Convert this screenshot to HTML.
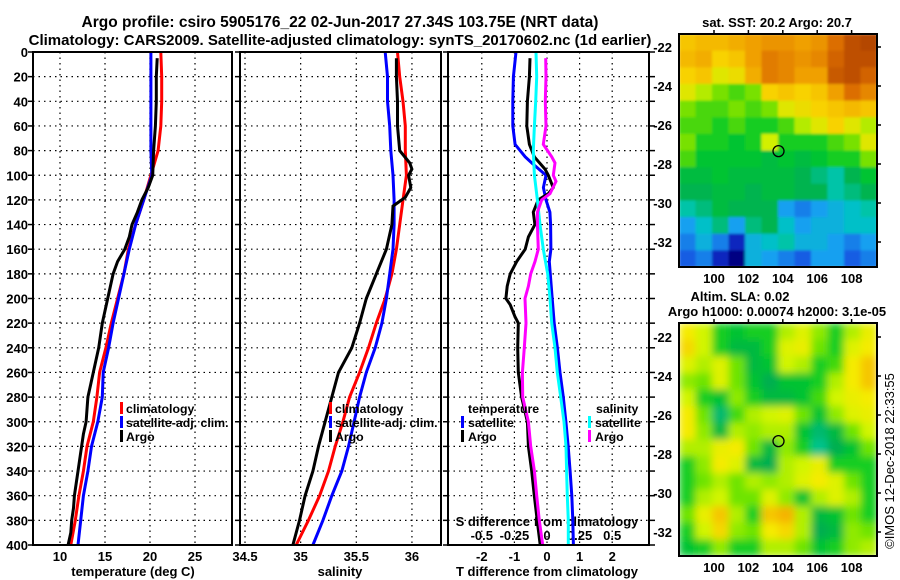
<!DOCTYPE html>
<html><head><meta charset="utf-8"><title>Argo profile</title>
<style>
html,body{margin:0;padding:0;background:#fff;}
svg{display:block;font-family:"Liberation Sans",sans-serif;font-weight:bold;}
</style></head>
<body>
<svg id="fig" width="900" height="580" viewBox="0 0 900 580" xmlns="http://www.w3.org/2000/svg">
<defs>
<filter id="blurSla" x="0" y="0" width="1" height="1"><feGaussianBlur stdDeviation="4" edgeMode="duplicate"/></filter>
<filter id="blurSst" x="0" y="0" width="1" height="1"><feGaussianBlur stdDeviation="1.2" edgeMode="duplicate"/></filter>
<clipPath id="clipSst"><rect x="679" y="34" width="198" height="233"/></clipPath>
<clipPath id="clipSla"><rect x="679" y="323" width="198" height="233"/></clipPath>
</defs>
<text x="340" y="27" text-anchor="middle" font-size="15.5">Argo profile: csiro 5905176_22 02-Jun-2017 27.34S 103.75E (NRT data)</text>
<text x="340" y="45" text-anchor="middle" font-size="15">Climatology: CARS2009. Satellite-adjusted climatology: synTS_20170602.nc (1d earlier)</text>
<text x="777" y="27" text-anchor="middle" font-size="13">sat. SST: 20.2 Argo: 20.7</text>
<text x="740" y="301" text-anchor="middle" font-size="13">Altim. SLA: 0.02</text>
<text x="777" y="316" text-anchor="middle" font-size="13">Argo h1000: 0.00074 h2000: 3.1e-05</text>
<text transform="translate(894,461) rotate(-90)" text-anchor="middle" font-size="13" font-weight="normal">©IMOS 12-Dec-2018 22:33:55</text>
<g id="plots"></g>
</svg>
<script>
// ---------- data: temperature panel ----------
const climDepth = [0,20,40,60,80,100,120,140,160,180,200,220,240,260,280,300,320,340,360,380,400];
const climTemp = [21.2,21.3,21.3,21.2,20.9,20.1,19.3,18.4,17.6,17.1,16.4,15.7,15.1,14.4,14.1,13.7,13.0,12.6,12.1,11.7,11.2];
const satTemp  = [20.1,20.1,20.1,20.1,20.1,20.2,19.3,18.4,17.7,17.1,16.5,15.9,15.4,14.8,14.7,14.2,13.5,13.1,12.6,12.3,12.0];
const argoDepth = [5,20,40,60,80,100,110,120,130,140,150,160,170,180,190,200,210,220,230,240,250,260,270,280,290,300,310,320,330,340,350,360,370,380,390,400];
const argoTemp = [20.8,20.7,20.7,20.6,20.4,20.3,19.8,19.1,18.6,18.0,17.7,17.2,16.4,15.9,15.6,15.3,15.0,14.7,14.5,14.3,14.0,13.7,13.4,13.1,13.0,12.9,12.6,12.4,12.2,12.0,11.8,11.6,11.5,11.3,11.2,10.9];
// ---------- data: salinity panel ----------
const climSal = [35.87,35.89,35.92,35.94,35.94,35.95,35.92,35.89,35.86,35.82,35.76,35.68,35.61,35.53,35.44,35.38,35.31,35.25,35.17,35.07,34.96];
const satSal  = [35.76,35.78,35.78,35.80,35.81,35.83,35.84,35.84,35.83,35.80,35.77,35.73,35.67,35.59,35.53,35.48,35.43,35.37,35.28,35.20,35.11];
const argoSalDepth = [5,20,40,60,80,90,95,100,110,118,125,140,160,180,200,220,240,260,280,300,320,340,360,380,400];
const argoSal = [35.86,35.86,35.87,35.87,35.89,35.98,36.00,35.97,35.99,35.94,35.83,35.82,35.77,35.68,35.59,35.53,35.46,35.34,35.28,35.22,35.16,35.11,35.04,34.99,34.93];
// ---------- data: difference panel ----------
const satTDiffDepth = [0,20,40,60,75,85,90,100,110,120,130,140,160,170,200,220,240,260,280,300,320,340,360,380,400];
const satTDiff = [-0.95,-1.03,-1.05,-1.05,-0.98,-0.67,-0.47,-0.03,-0.11,-0.03,0.09,0.11,0.12,0.07,0.16,0.22,0.32,0.40,0.50,0.58,0.65,0.71,0.76,0.79,0.81];
const argoTDiffDepth = [5,20,40,60,75,85,95,100,110,115,120,130,140,150,160,170,180,190,200,205,215,220,240,260,280,300,320,340,360,380,400];
const argoTDiff = [-0.52,-0.54,-0.60,-0.62,-0.54,-0.39,-0.06,0.04,0.19,0.04,-0.27,-0.42,-0.37,-0.57,-0.67,-0.93,-1.13,-1.22,-1.26,-1.13,-0.98,-0.88,-0.90,-0.88,-0.78,-0.60,-0.57,-0.47,-0.39,-0.30,-0.21];
const satSDiffDepth = [0,20,40,60,80,100,120,140,160,180,200,220,240,260,280,300,320,340,360,380,400];
const satSDiff = [-0.084,-0.079,-0.087,-0.097,-0.105,-0.097,-0.074,-0.054,-0.028,0.005,0.023,0.036,0.061,0.079,0.105,0.130,0.146,0.150,0.156,0.163,0.163];
const argoSDiffDepth = [5,20,40,60,75,85,90,100,105,115,120,130,140,160,170,180,190,200,220,240,260,280,300,320,340,360,380,400];
const argoSDiff = [-0.010,-0.008,-0.013,-0.008,-0.028,0.036,0.061,0.048,0.069,0.023,-0.041,-0.074,-0.074,-0.067,-0.092,-0.125,-0.143,-0.169,-0.161,-0.174,-0.189,-0.186,-0.143,-0.125,-0.097,-0.079,-0.059,-0.033];
// ---------- tick labels ----------
const depthTicks = [0,20,40,60,80,100,120,140,160,180,200,220,240,260,280,300,320,340,360,380,400];
const tempTicks = [10,15,20,25];
const salTicks = [34.5,35,35.5,36];
const salTickLabels = ['34.5','35','35.5','36'];
const tDiffTicks = [-2,-1,0,1,2];
const sDiffTicks = [-0.5,-0.25,0,0.25,0.5];
const sDiffTickLabels = ['-0.5','-0.25','0','0.25','0.5'];
const lonTicks = [100,102,104,106,108];
const latTicks = [-22,-24,-26,-28,-30,-32];
// ---------- map grids (rows north->south, cols west->east) ----------
const sstGrid = [
[21.3,21.4,21.4,21.5,21.6,21.7,21.7,21.6,21.7,22.0,22.3,22.4],
[21.4,21.5,21.2,21.3,21.6,21.9,21.8,21.7,21.8,22.1,22.3,22.3],
[21.2,21.3,21.0,21.1,21.5,21.9,21.8,21.6,21.6,22.2,22.3,22.1],
[21.0,20.8,20.6,20.5,20.6,21.2,21.3,21.2,21.3,21.6,22.0,21.8],
[20.6,20.5,20.5,20.6,20.5,20.6,21.0,21.1,21.2,21.3,21.4,21.3],
[20.5,20.5,20.4,20.5,20.4,20.4,20.5,20.8,21.0,21.2,21.0,20.8],
[20.6,20.4,20.4,20.3,20.4,20.9,20.4,20.4,20.4,20.5,20.6,21.0],
[20.5,20.3,20.3,20.3,20.3,20.2,20.3,20.2,20.3,20.4,20.4,20.6],
[20.2,20.2,20.3,20.2,20.2,20.2,20.2,20.1,20.0,19.9,20.1,20.3],
[20.1,20.1,20.2,20.2,20.1,20.2,20.2,20.1,20.1,19.9,20.0,20.1],
[19.9,20.0,20.2,20.1,20.1,20.1,19.6,19.5,19.6,19.7,19.8,19.9],
[19.6,19.8,20.0,19.6,20.0,20.1,19.8,19.6,19.7,19.7,19.8,19.8],
[19.5,19.7,19.5,19.2,19.7,19.8,19.9,19.7,19.7,19.6,19.5,19.6],
[19.4,19.5,19.2,19.0,19.7,19.6,19.5,19.4,19.6,19.6,19.4,19.5]];
const slaGrid = [
[0.06,0.03,-0.02,-0.03,-0.02,-0.02,0.02,0.04,0.01,-0.02,0.02,0.05],
[0.07,0.03,-0.02,-0.04,-0.04,-0.02,0.04,0.05,0.00,-0.02,0.04,0.06],
[0.04,0.02,0.04,0.00,-0.04,-0.03,0.03,0.02,-0.02,-0.01,0.06,0.08],
[0.01,0.00,0.04,0.00,-0.03,-0.05,-0.03,-0.03,-0.02,0.02,0.06,0.08],
[0.03,-0.02,-0.03,0.01,-0.02,-0.04,-0.04,-0.03,-0.01,0.03,0.05,0.06],
[0.06,0.00,-0.06,-0.01,0.02,0.03,0.04,0.00,-0.03,0.01,0.04,0.05],
[0.06,0.01,-0.04,0.02,0.01,0.02,0.02,-0.03,-0.06,-0.04,0.00,0.03],
[0.02,0.02,0.05,0.06,0.00,-0.04,0.01,-0.02,-0.07,-0.05,-0.03,0.00],
[-0.02,0.01,0.06,0.04,-0.04,-0.05,0.02,0.03,0.05,-0.02,-0.02,-0.02],
[-0.02,0.00,0.02,0.00,0.02,0.01,0.02,0.04,0.06,0.04,0.00,-0.02],
[-0.02,0.02,0.03,0.00,0.00,0.04,0.01,-0.03,0.02,0.04,0.02,-0.02],
[0.00,0.05,0.08,0.02,-0.02,0.08,0.09,0.02,-0.04,-0.03,0.00,-0.02],
[-0.02,0.03,0.07,0.01,0.00,0.06,0.07,0.02,-0.05,-0.04,0.01,0.00],
[-0.03,-0.02,0.01,-0.02,-0.02,0.02,0.02,0.00,-0.03,-0.02,0.01,0.02]];
const argoLon = 103.75;
const argoLat = -27.34;

// ---------- scales ----------
const NS = 'http://www.w3.org/2000/svg';
const root = document.getElementById('plots');
const PT = 52, PB = 545;
const yD = d => PT + d * (PB - PT) / 400;
const xT = t => 60 + (t - 10) * 9;
const xS = s => 245 + (s - 34.5) * 111.3;
const xdT = d => 547 + d * 32.6;
const xdS = d => 547 + d * 130.4;
const panels = [{x0:33,x1:232,name:'temperature'},{x0:240,x1:441,name:'salinity'},{x0:448,x1:649,name:'difference'}];
const lonX = lon => 714 + (lon - 100) * 17.2;
const latY1 = lat => 47 + (-22 - lat) * 19.5;
const latY2 = lat => 337 + (-22 - lat) * 19.5;

function mk(tag, attrs, parent) {
  const e = document.createElementNS(NS, tag);
  for (const k in attrs) e.setAttribute(k, attrs[k]);
  (parent || root).appendChild(e);
  return e;
}
function txt(x, y, s, size, anchor) {
  const e = mk('text', {x:x, y:y, 'font-size':size, 'text-anchor':anchor || 'middle'});
  e.textContent = s;
  return e;
}

// ---------- panels frames, grids, ticks ----------
panels.forEach(p => {
  depthTicks.forEach(d => {
    if (d > 0 && d < 400) {
      const g = mk('line', {x1:p.x0, x2:p.x1, y1:yD(d), y2:yD(d), stroke:'#000', 'stroke-width':1.2, 'stroke-dasharray':'1.5,4'});
      
      
    }
    const t = mk('line', {x1:p.x0 - 5, x2:p.x0, y1:yD(d), y2:yD(d), stroke:'#000', 'stroke-width':1.5});
    
    
  });
});
depthTicks.forEach(d => {
  const t = mk('line', {x1:649, x2:655, y1:yD(d), y2:yD(d), stroke:'#000', 'stroke-width':1.5});
  
  
  const l = txt(28, yD(d) + 5, String(d), 13, 'end');
  
  
});
function vgrid(xs) {
  xs.forEach(x => {
    const g = mk('line', {x1:x, x2:x, y1:PT, y2:PB, stroke:'#000', 'stroke-width':1.2, 'stroke-dasharray':'1.5,4'});
    
    
  });
}
vgrid(tempTicks.map(xT));
vgrid(salTicks.map(xS));
vgrid(tDiffTicks.map(xdT));
tempTicks.forEach(t => {
  const l = txt(xT(t), 561, String(t), 13);
  
  
});
salTicks.forEach((s, i) => {
  const l = txt(xS(s), 561, salTickLabels[i], 13);
  
  
});
tDiffTicks.forEach(t => {
  const l = txt(xdT(t), 561, String(t), 13);
  
  
});
sDiffTicks.forEach((s, i) => {
  const l = txt(xdS(s), 540, sDiffTickLabels[i], 13);
  
  
});
let at = txt(133, 576, 'temperature (deg C)', 13);


at = txt(340, 576, 'salinity', 13);


at = txt(547, 576, 'T difference from climatology', 13);


at = txt(547, 526, 'S difference from climatology', 13);



// ---------- series ----------
function series(depths, vals, xf, color, name) {
  const pts = depths.map((d, i) => xf(vals[i]).toFixed(1) + ',' + yD(d).toFixed(1)).join(' ');
  const e = mk('polyline', {points:pts, fill:'none', stroke:color, 'stroke-width':3, 'stroke-linejoin':'miter'});
  
  
}
series(climDepth, climTemp, xT, '#ff0000', 'climatology-temperature-line');
series(climDepth, satTemp, xT, '#0000ff', 'satellite-temperature-line');
series(argoDepth, argoTemp, xT, '#000000', 'argo-temperature-line');
series(climDepth, climSal, xS, '#ff0000', 'climatology-salinity-line');
series(climDepth, satSal, xS, '#0000ff', 'satellite-salinity-line');
series(argoSalDepth, argoSal, xS, '#000000', 'argo-salinity-line');
series(satTDiffDepth, satTDiff, xdT, '#0000ff', 'satellite-t-diff-line');
series(argoTDiffDepth, argoTDiff, xdT, '#000000', 'argo-t-diff-line');
series(satSDiffDepth, satSDiff, xdS, '#00ffff', 'satellite-s-diff-line');
series(argoSDiffDepth, argoSDiff, xdS, '#ff00ff', 'argo-s-diff-line');

// frames on top
panels.forEach(p => {
  const f = mk('rect', {x:p.x0, y:PT, width:p.x1 - p.x0, height:PB - PT, fill:'none', stroke:'#000', 'stroke-width':2});
  
  
});

// ---------- legends ----------
function legItem(bx, tx, y, color, label, name) {
  const b = mk('rect', {x:bx, y:y - 11, width:3, height:12, fill:color});
  
  
  const t = txt(tx, y, label, 12.3, 'start');
  
  
}
[[120,126],[329,335]].forEach(c => {
  legItem(c[0], c[1], 413, '#ff0000', 'climatology', 'legend-climatology');
  legItem(c[0], c[1], 427, '#0000ff', 'satellite-adj. clim.', 'legend-satellite-adj');
  legItem(c[0], c[1], 441, '#000000', 'Argo', 'legend-argo');
});
let lh = txt(468, 413, 'temperature', 12.3, 'start');


legItem(461, 468, 427, '#0000ff', 'satellite', 'legend-t-satellite');
legItem(461, 468, 441, '#000000', 'Argo', 'legend-t-argo');
lh = txt(596, 413, 'salinity', 12.3, 'start');


legItem(588, 595, 427, '#00ffff', 'satellite', 'legend-s-satellite');
legItem(588, 595, 441, '#ff00ff', 'Argo', 'legend-s-argo');

// ---------- maps ----------
function lerpStops(stops, v) {
  if (v <= stops[0][0]) return 'rgb(' + stops[0][1].join(',') + ')';
  for (let i = 1; i < stops.length; i++) {
    if (v <= stops[i][0]) {
      const a = stops[i-1], b = stops[i], f = (v - a[0]) / (b[0] - a[0]);
      const c = a[1].map((x, k) => Math.round(x + (b[1][k] - x) * f));
      return 'rgb(' + c.join(',') + ')';
    }
  }
  const l = stops[stops.length - 1][1];
  return 'rgb(' + l.join(',') + ')';
}
const sstStops = [[19.0,[0,0,130]],[19.3,[20,60,220]],[19.6,[20,160,240]],[19.85,[0,200,190]],[20.1,[0,180,80]],[20.35,[0,200,40]],[20.6,[120,225,0]],[20.9,[210,240,0]],[21.2,[248,210,0]],[21.6,[240,160,0]],[22.0,[220,110,0]],[22.4,[180,70,0]]];
const slaStops = [[-0.08,[0,205,170]],[-0.05,[0,175,80]],[-0.025,[0,200,40]],[0.0,[110,228,0]],[0.03,[210,245,0]],[0.06,[245,235,0]],[0.10,[245,160,0]]];
function heat(grid, stops, y0, clip, filt, name) {
  const g = mk('g', {'clip-path':'url(#' + clip + ')'});
  
  
  const inner = mk('g', {filter:'url(#' + filt + ')'}, g);
  const rows = grid.length, cols = grid[0].length;
  const cw = 198 / cols, ch = 233 / rows;
  grid.forEach((row, r) => row.forEach((v, c) => {
    const cell = mk('rect', {x:(679 + c * cw).toFixed(2), y:(y0 + r * ch).toFixed(2), width:(cw + 0.6).toFixed(2), height:(ch + 0.6).toFixed(2), fill:lerpStops(stops, v)}, inner);
    
    
  }));
}
heat(sstGrid, sstStops, 34, 'clipSst', 'blurSst', 'sst-map');
heat(slaGrid, slaStops, 323, 'clipSla', 'blurSla', 'sla-map');
[[34, latY1, 'sst'], [323, latY2, 'sla']].forEach(m => {
  const fr = mk('rect', {x:679, y:m[0], width:198, height:233, fill:'none', stroke:'#000', 'stroke-width':2});
  
  
  latTicks.forEach(lat => {
    const l = txt(672, m[1](lat) + 5, String(lat), 13, 'end');
    
    
    const t = mk('line', {x1:877, x2:881, y1:m[1](lat), y2:m[1](lat), stroke:'#000', 'stroke-width':1.5});
    
    
  });
  lonTicks.forEach(lon => {
    const l = txt(lonX(lon), m[0] + 233 + 16, String(lon), 13);
    
    
    const t = mk('line', {x1:lonX(lon), x2:lonX(lon), y1:m[0] - 4, y2:m[0], stroke:'#000', 'stroke-width':1.5});
    
    
  });
  const c = mk('circle', {cx:lonX(argoLon), cy:m[1](argoLat), r:5.5, fill:'none', stroke:'#000', 'stroke-width':1.3});
  
  
});
</script>
</body></html>
